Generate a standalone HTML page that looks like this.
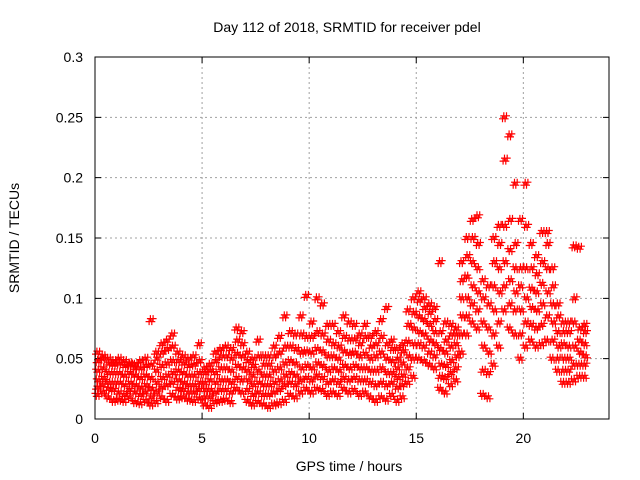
<!DOCTYPE html>
<html><head><meta charset="utf-8"><style>
body{margin:0;background:#fff;}
svg{display:block;font-family:"Liberation Sans",sans-serif;}
</style></head><body>
<svg id="chart" width="640" height="480" viewBox="0 0 640 480">
<text x="347" y="32" font-size="14" text-anchor="middle" fill="#000">Day 112 of 2018, SRMTID for receiver pdel</text>
<text x="349" y="471" font-size="14" text-anchor="middle" fill="#000">GPS time / hours</text>
<text transform="translate(19,238) rotate(-90)" font-size="14" text-anchor="middle" fill="#000">SRMTID / TECUs</text>
<g id="grid"></g>
<g id="ticks"></g>
<g id="points"></g>
<rect x="95" y="57" width="514" height="362" fill="none" stroke="#000" stroke-width="1"/>
</svg>
<script>
const xTicks=[0,5,10,15,20];
const yTicks=[0,0.05,0.1,0.15,0.2,0.25,0.3];
const yTickLabels=["0","0.05","0.1","0.15","0.2","0.25","0.3"];
const binStart=0, binStep=0.25;
// values in units of 0.001 TECU, one entry per 0.25 h bin (0 .. 22.75)
const sLow=[20,22,18,15,16,15,18,14,13,15,12,14,18,15,20,17,18,16,15,17,12,10,14,15,16,14,25,22,15,12,14,12,10,12,13,15,20,18,22,25,22,25,24,20,22,20,25,22,24,20,22,18,15,18,16,20,15,18,30,35,50,48,45,42,25,22,28,32,55,70,80,75,20,18,45,60,90,75,70,50,60,65,60,62,65,50,40,30,30,32,35,35];
const sLowMid=[26,28,25,24,22,20,24,22,20,22,18,22,26,28,30,25,24,22,22,24,18,18,22,24,24,22,34,32,24,20,22,20,20,22,24,28,30,28,32,34,32,36,34,30,32,30,34,32,34,32,32,30,28,30,28,30,26,28,42,50,62,60,55,52,35,34,38,42,70,85,95,90,40,38,70,80,110,95,90,70,80,78,75,78,85,65,50,40,40,45,45,45];
const sMid=[32,34,30,30,30,28,30,28,26,28,25,30,34,36,38,32,30,28,28,30,24,24,30,32,32,30,44,42,32,28,30,28,28,30,32,36,38,36,42,44,42,46,44,40,42,40,44,42,44,42,42,40,40,42,38,38,34,36,52,62,72,70,65,62,45,44,48,52,85,100,110,105,60,55,90,105,130,115,105,90,100,92,90,95,105,80,60,50,50,60,55,52];
const sHighMid=[40,42,38,38,38,36,38,36,34,36,34,40,44,46,48,40,38,36,36,38,30,32,38,42,42,40,54,52,40,36,40,36,36,40,42,46,48,46,55,56,55,58,56,52,52,50,56,54,55,52,54,50,52,55,50,48,42,46,64,75,85,82,78,72,58,55,60,62,100,118,130,125,80,75,110,125,160,140,125,110,125,108,105,112,125,95,72,62,60,80,65,62];
const sHigh=[48,50,46,45,46,44,45,42,42,44,45,50,55,58,60,48,46,44,45,48,38,40,48,52,52,50,65,62,48,44,52,45,45,52,55,60,60,58,70,68,68,72,70,65,62,60,68,66,66,62,68,60,62,68,62,58,50,56,78,88,98,92,88,82,72,65,70,70,115,135,150,145,100,95,130,145,215,165,145,125,160,125,120,130,145,110,85,72,72,100,75,72];
const sOut=[55,52,50,48,50,48,46,45,48,50,82,55,62,65,70,55,52,50,52,62,42,45,55,58,60,58,75,72,55,50,65,52,52,60,68,85,72,70,85,102,80,100,95,78,78,72,85,80,78,70,78,68,72,82,92,65,58,62,90,100,105,100,95,92,130,80,78,75,130,150,165,168,115,110,150,160,250,235,195,165,195,145,135,155,155,125,95,80,80,143,142,78];
const seriesList=[sLow,sLowMid,sMid,sHighMid,sHigh,sOut];

const X0=95,X1=609,Y0=419,Y1=57,XMAX=24,YMAX=0.3;
const xs=v=>X0+(v/XMAX)*(X1-X0);
const ys=v=>Y0-(v/YMAX)*(Y0-Y1);
const NS="http://www.w3.org/2000/svg";
const grid=document.getElementById('grid'),ticks=document.getElementById('ticks'),pts=document.getElementById('points');
function mk(tag,attrs,parent){const e=document.createElementNS(NS,tag);for(const k in attrs)e.setAttribute(k,attrs[k]);parent.appendChild(e);return e;}
xTicks.forEach(t=>{
  const x=xs(t);
  if(t>0){const g=mk('line',{x1:x,x2:x,y1:Y0,y2:Y1,stroke:'#a0a0a0','stroke-dasharray':'2,3'},grid);
  
  }
  const tk=mk('path',{d:`M${x},${Y0}v-6M${x},${Y1}v6`,stroke:'#000'},ticks);
  
  
  const lb=mk('text',{x:x,y:443,'font-size':14,'text-anchor':'middle'},ticks);lb.textContent=String(t);
  
  
});
yTicks.forEach((t,i)=>{
  const y=ys(t);
  if(i>0&&i<yTicks.length-1){const g=mk('line',{x1:X0,x2:X1,y1:y,y2:y,stroke:'#a0a0a0','stroke-dasharray':'2,3'},grid);
  
  }
  const tk=mk('path',{d:`M${X0},${y}h6M${X1},${y}h-6`,stroke:'#000'},ticks);
  
  
  const lb=mk('text',{x:83,y:y+5,'font-size':14,'text-anchor':'end'},ticks);lb.textContent=yTickLabels[i];
  
  
});
let d='';
const copies=4;
seriesList.forEach((arr,j)=>{
  arr.forEach((v,i)=>{
    for(let c=0;c<copies;c++){
      const t=binStart+i*binStep+((j*0.37+c/copies)%1)*binStep;
      const x=xs(t),y=ys(v/1000)+(c%2?1.5:-1.5);
      d+=`M${(x-3.5).toFixed(1)},${y.toFixed(1)}h7M${x.toFixed(1)},${(y-3.5).toFixed(1)}v7`;
    }
  });
});
const p=mk('path',{d:d,stroke:'#ff0000','stroke-width':1.2,fill:'none'},pts);


</script>
</body></html>
